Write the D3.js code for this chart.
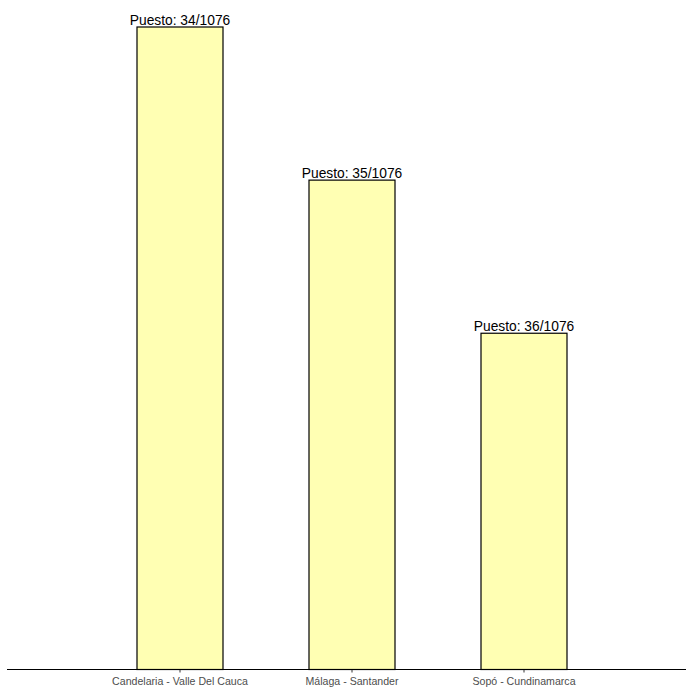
<!DOCTYPE html>
<html><head><meta charset="utf-8">
<script src="https://cdn.jsdelivr.net/npm/d3@7"></script>
<style>body{margin:0;background:#fff}svg{display:block}</style>
</head><body>
<script>
const categories = ["Candelaria - Valle Del Cauca", "Málaga - Santander", "Sopó - Cundinamarca"];
const values = [64.2, 48.9, 33.6];
const labels = ["Puesto: 34/1076", "Puesto: 35/1076", "Puesto: 36/1076"];

const W = 686, H = 688;
const svg = d3.select("body").append("svg").attr("width", W).attr("height", H);

const x = d3.scaleBand().domain(categories).range([94, 610]).paddingInner(0.5).paddingOuter(0.25);
const y = d3.scaleLinear().domain([0, 64.2]).range([669.5, 27]);

const data = categories.map((c, i) => ({c, v: values[i], l: labels[i]}));

svg.selectAll("rect.bar").data(data).join("rect")
  .attr("class", "bar")
  .attr("x", d => x(d.c)).attr("width", x.bandwidth())
  .attr("y", d => y(d.v)).attr("height", d => y(0) - y(d.v))
  .attr("fill", "#FFFFB3").attr("stroke", "#000").attr("stroke-width", 1.2);

svg.selectAll("text.lab").data(data).join("text")
  .attr("class", "lab")
  .attr("x", d => x(d.c) + x.bandwidth() / 2)
  .attr("y", d => y(d.v) - 2)
  .attr("text-anchor", "middle")
  .attr("font-family", "Liberation Sans, Arial, sans-serif")
  .attr("font-size", 13.8).attr("fill", "#000")
  .text(d => d.l);

const ax = svg.append("g").attr("transform", "translate(0,669.5)")
  .call(d3.axisBottom(x).tickSize(3).tickPadding(5));
ax.select(".domain").remove();
ax.selectAll(".tick line").attr("stroke", "#333");
ax.selectAll(".tick text").attr("fill", "#4D4D4D")
  .attr("font-family", "Liberation Sans, Arial, sans-serif").attr("font-size", 10.6);
svg.append("line").attr("x1", 7).attr("x2", 686).attr("y1", 669.5).attr("y2", 669.5)
  .attr("stroke", "#000").attr("stroke-width", 1.1);
</script>
</body></html>
